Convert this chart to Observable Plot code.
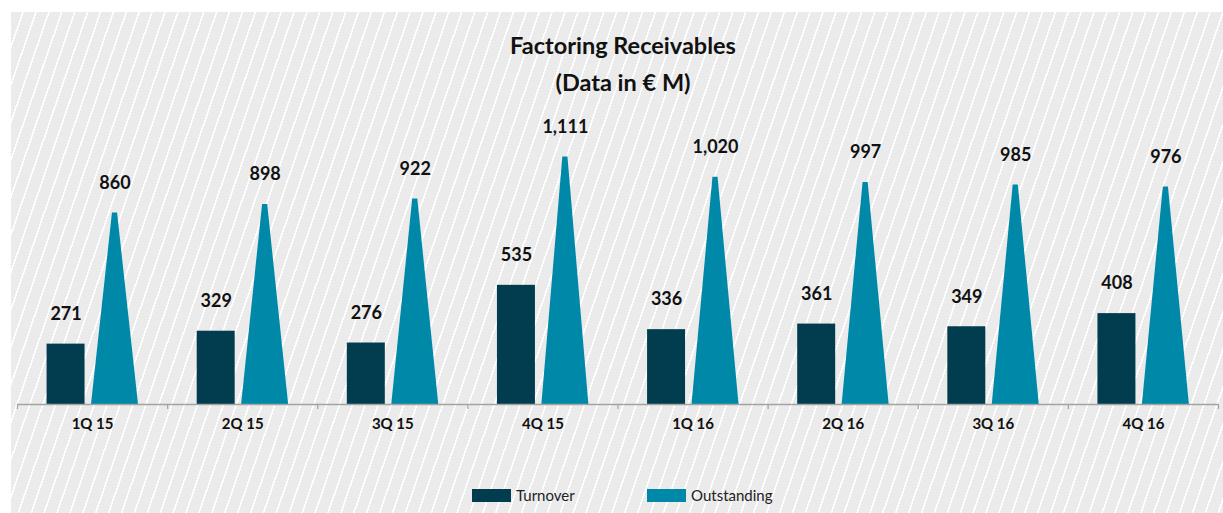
<!DOCTYPE html>
<html>
<head>
<meta charset="utf-8">
<script src="https://cdn.jsdelivr.net/npm/d3@7"></script>
<script src="https://cdn.jsdelivr.net/npm/@observablehq/plot@0.6"></script>
<style>
  html, body { margin: 0; padding: 0; background: #fff; }
  body { width: 1223px; height: 513px; overflow: hidden; position: relative; font-family: "Lato", "Liberation Sans", sans-serif; }
  #panel {
    position: absolute; left: 11px; top: 12px; width: 1212px; height: 501px;
    background: repeating-linear-gradient(109deg, #ebebeb 0px, #ebebeb 10.6px, #ffffff 10.6px, #ffffff 12.2px);
  }
  #chart { position: absolute; left: 0; top: 0; }
  .title { position: absolute; left: 312px; width: 600px; text-align: center; font-weight: bold; font-size: 23.5px; line-height: 23.5px; color: #111; }
  #legend { position: absolute; top: 473px; left: 0; width: 1212px; height: 20px; font-size: 15px; color: #222; }
  .item { position: absolute; top: 0; display: flex; align-items: center; height: 20px; }
  .sw { width: 39px; height: 13px; margin-right: 5px; }
</style>
</head>
<body>
<div id="panel">
  <div id="chart"></div>
  <div class="title" style="top:22px">Factoring Receivables</div>
  <div class="title" style="top:59px">(Data in € M)</div>
  <div id="legend"></div>
</div>
<script>
// ---- data ----
const quarters = ["1Q 15", "2Q 15", "3Q 15", "4Q 15", "1Q 16", "2Q 16", "3Q 16", "4Q 16"];
const turnover = [271, 329, 276, 535, 336, 361, 349, 408];
const outstanding = [860, 898, 922, 1111, 1020, 997, 985, 976];
const seriesNames = ["Turnover", "Outstanding"];
const seriesColors = ["#023d4f", "#0088a8"];

// ---- shape styling (offsets inside each quarter band, in band units) ----
const BAR_X1 = -0.303, BAR_X2 = -0.05;
const TRI_L = -0.007, TRI_R = 0.306, TRI_HALF_TOP = 0.017;
const TRI_C = (TRI_L + TRI_R) / 2;

const fmt = d3.format(",");

const turnoverRows = quarters.map((q, i) => ({q, i, v: turnover[i]}));
const outstandingRows = quarters.map((q, i) => ({q, i, v: outstanding[i]}));
// trapezoid outline per quarter: base-left, top-left, top-right, base-right
const triPoints = outstandingRows.flatMap(d => [
  {q: d.q, x: d.i + TRI_L, y: 0},
  {q: d.q, x: d.i + TRI_C - TRI_HALF_TOP, y: d.v},
  {q: d.q, x: d.i + TRI_C + TRI_HALF_TOP, y: d.v},
  {q: d.q, x: d.i + TRI_R, y: 0}
]);
const boundaries = quarters.map((_, i) => i - 0.5).concat([quarters.length - 0.5]);
const centers = quarters.map((_, i) => i);

const plot = Plot.plot({
  width: 1212,
  height: 501,
  marginLeft: 6,
  marginRight: 5,
  marginTop: 118,
  marginBottom: 109,
  style: {background: "transparent", fontFamily: "Lato, 'Liberation Sans', sans-serif", overflow: "visible"},
  x: {domain: [-0.5, quarters.length - 0.5]},
  y: {domain: [0, 1230], axis: null},
  marks: [
    Plot.rectY(turnoverRows, {x1: d => d.i + BAR_X1, x2: d => d.i + BAR_X2, y1: 0, y2: "v", fill: seriesColors[0]}),
    Plot.areaY(triPoints, {x: "x", y1: 0, y2: "y", z: "q", fill: seriesColors[1], curve: "linear"}),
    Plot.ruleY([0], {stroke: "#a3a3a3", strokeWidth: 1.5}),
    Plot.axisX(boundaries, {tickSize: 5, tickFormat: () => "", stroke: "#a3a3a3", strokeWidth: 1.2, label: null}),
    Plot.axisX(centers, {tickSize: 0, tickPadding: 14, tickFormat: i => quarters[i], fontSize: 15, fontWeight: "bold", fill: "#111", label: null}),
    Plot.text(turnoverRows, {x: d => d.i + (BAR_X1 + BAR_X2) / 2, y: "v", text: d => fmt(d.v), dy: -30, fontSize: 18, fontWeight: "bold", fill: "#111"}),
    Plot.text(outstandingRows, {x: d => d.i + TRI_C, y: "v", text: d => fmt(d.v), dy: -30, fontSize: 18, fontWeight: "bold", fill: "#111"})
  ]
});
document.getElementById("chart").appendChild(plot);

// ---- legend ----
const legendLeft = [461, 636];
const legend = document.getElementById("legend");
seriesNames.forEach((name, k) => {
  const item = document.createElement("div");
  item.className = "item";
  item.style.left = legendLeft[k] + "px";
  const sw = document.createElement("div");
  sw.className = "sw";
  sw.style.background = seriesColors[k];
  const label = document.createElement("span");
  label.textContent = name;
  item.appendChild(sw);
  item.appendChild(label);
  legend.appendChild(item);
});
</script>
</body>
</html>
